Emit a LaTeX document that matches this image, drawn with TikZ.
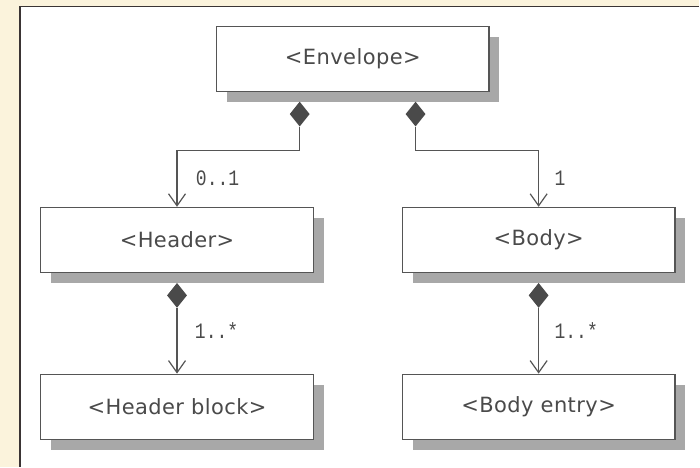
\documentclass[tikz,border=0pt]{standalone}
\usepackage{fontspec}
\usetikzlibrary{arrows.meta,shapes.geometric}
\newfontfamily\boxfont[LetterSpace=2]{DejaVu Sans}
\newfontfamily\multfont[FakeStretch=0.82]{Liberation Mono}
\definecolor{paper}{HTML}{FBF3DC}
\definecolor{frameline}{HTML}{3A3434}
\definecolor{edge}{HTML}{555555}
\definecolor{shade}{HTML}{A8A8A8}
\definecolor{ink}{HTML}{4A4A4A}
\begin{document}
\begin{tikzpicture}[x=1pt,y=-1pt,
  classbox/.style={draw=edge, line width=1.4pt, fill=white, minimum width=273pt,
    minimum height=65pt, inner sep=0pt, font=\boxfont\fontsize{21}{24}\selectfont,
    text=ink},
  shadowbox/.style={fill=shade},
  comp/.style={diamond, fill=ink, draw=none, inner sep=0pt, minimum width=20pt,
    minimum height=25pt, anchor=north},
  link/.style={draw=edge, line width=1.3pt},
  navarrow/.style={link, -{Straight Barb[length=12pt,width=17pt,line width=1.2pt]}},
  mult/.style={font=\multfont\fontsize{22}{24}\selectfont, text=ink, inner sep=0pt, anchor=west}
]
% page and panel
\fill[paper] (0,0) rectangle (700,467);
\fill[white] (20,7) rectangle (700,467);
\draw[frameline, line width=1.5pt] (20,467) -- (20,6.5) -- (700,6.5);
\useasboundingbox (0,0) rectangle (700,467);

% drop shadows
\foreach \x/\y in {216/26, 40/207, 402/207, 40/374, 402/374}
  \fill[shadowbox] (\x+11,\y+11) rectangle (\x+284,\y+76);

% classes
\node[classbox, anchor=north west] (env) at (216,26) {<Envelope>};
\node[classbox, anchor=north west] (hdr) at (40,207) {<Header>};
\node[classbox, anchor=north west] (bdy) at (402,207) {<Body>};
\node[classbox, anchor=north west] (hblk) at (40,374) {<Header block>};
\node[classbox, anchor=north west] (bent) at (402,374) {<Body entry>};

% composition diamonds
\node[comp] (dh) at (300,101.5) {};
\node[comp] (db) at (416,101.5) {};
\node[comp] (dhb) at (hdr.south |- 0,283) {};
\node[comp] (dbe) at (bdy.south |- 0,283) {};

% associations
\draw[navarrow] (dh.south) -- ++(0,24) -| (hdr.north);
\draw[navarrow] (db.south) -- ++(0,24) -| (bdy.north);
\draw[navarrow] (dhb.south) -- (hblk.north);
\draw[navarrow] (dbe.south) -- (bent.north);

% multiplicities
\node[mult] (m1) at (196,178) {0..1};
\node[mult] (m2) at (555,178) {1};
\node[mult] (m3) at (195,331) {1..*};
\node[mult] (m4) at (555,331) {1..*};
\end{tikzpicture}
\end{document}
